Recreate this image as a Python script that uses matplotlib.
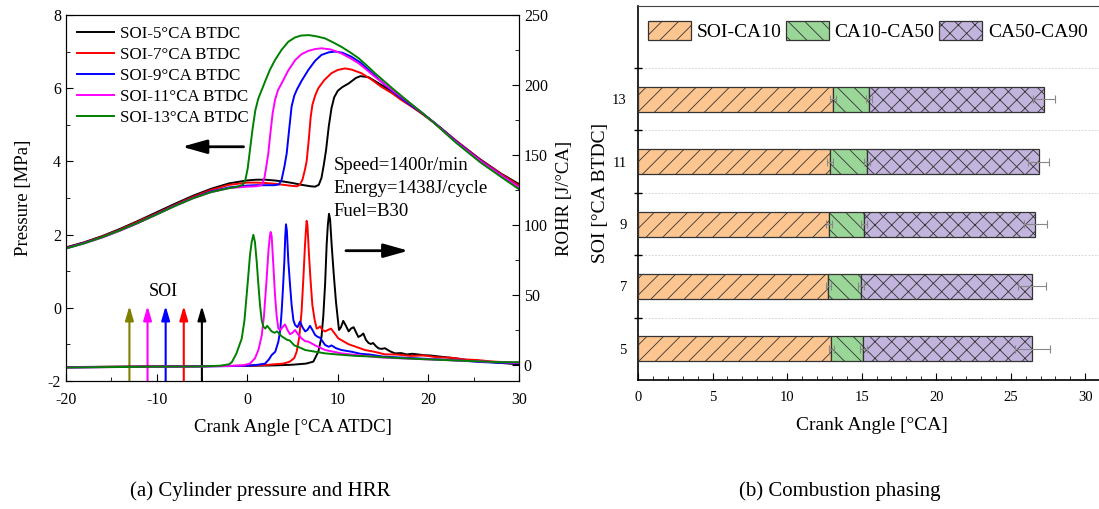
import matplotlib
matplotlib.use('Agg')
from matplotlib import pyplot as plt
from matplotlib.patches import Patch
from matplotlib.ticker import MultipleLocator, FixedLocator

plt.rcParams['font.family'] = ['Liberation Serif', 'DejaVu Serif']
plt.rcParams['hatch.linewidth'] = 0.6
plt.rcParams['axes.unicode_minus'] = False

# ---- (a) cylinder pressure / ROHR ----
labels = ['SOI-5°CA BTDC', 'SOI-7°CA BTDC', 'SOI-9°CA BTDC', 'SOI-11°CA BTDC', 'SOI-13°CA BTDC']
colors = ['black', 'red', 'blue', 'magenta', 'green']

p5_x = [-20, -18, -16, -14, -12, -10, -8, -6, -4, -2, 0, 1, 2, 3, 4, 5, 6, 7, 7.5, 7.9, 8.2, 8.45, 8.7, 9.0,
        9.3, 9.6, 10.0, 10.5, 11.2, 12.0, 12.5, 13.4, 14.8, 16, 17, 18, 19.3, 20.5, 21.3, 23, 25.7, 28, 30]
p5_y = [1.65, 1.79, 1.96, 2.16, 2.38, 2.61, 2.84, 3.06, 3.25, 3.40, 3.48, 3.50, 3.50, 3.48, 3.45, 3.41, 3.36,
        3.32, 3.31, 3.36, 3.55, 3.9, 4.3, 4.95, 5.45, 5.75, 5.93, 6.03, 6.13, 6.28, 6.33, 6.3, 6.09, 5.9, 5.72,
        5.55, 5.31, 5.08, 4.93, 4.57, 4.06, 3.67, 3.38]
p7_x = [-20, -18, -16, -14, -12, -10, -8, -6, -4, -2, 0, 1, 2, 3, 4, 5, 5.5, 5.8, 6.1, 6.35, 6.56, 6.8, 7.0,
        7.2, 7.5, 7.85, 8.5, 9.3, 10.0, 10.8, 11.5, 12.6, 13.7, 14.8, 16, 17, 18, 19.3, 20.5, 21.3, 23, 25.7, 28, 30]
p7_y = [1.64, 1.78, 1.95, 2.14, 2.36, 2.58, 2.81, 3.03, 3.22, 3.36, 3.42, 3.42, 3.41, 3.39, 3.36, 3.33, 3.32,
        3.36, 3.5, 3.75, 4.0, 4.6, 5.2, 5.55, 5.8, 6.0, 6.22, 6.41, 6.5, 6.54, 6.51, 6.41, 6.24, 6.04, 5.86,
        5.68, 5.52, 5.3, 5.08, 4.92, 4.58, 4.05, 3.66, 3.34]
p9_x = [-20, -18, -16, -14, -12, -10, -8, -6, -4, -2, 0, 1, 2, 3, 3.5, 3.8, 4.1, 4.36, 4.6, 4.9, 5.2, 5.5, 6.0,
        6.75, 7.5, 8.2, 9.0, 9.7, 10.5, 11.5, 12.5, 13.4, 15.2, 16.5, 17.8, 19.3, 20.5, 21.3, 23, 25.7, 28, 30]
p9_y = [1.63, 1.77, 1.93, 2.12, 2.33, 2.56, 2.79, 3.0, 3.18, 3.29, 3.34, 3.35, 3.35, 3.35, 3.37, 3.5, 3.85,
        4.22, 4.8, 5.5, 5.8, 5.97, 6.2, 6.5, 6.75, 6.91, 6.98, 7.0, 6.97, 6.86, 6.7, 6.5, 6.09, 5.82, 5.58,
        5.32, 5.09, 4.92, 4.56, 4.03, 3.63, 3.29]
p11_x = [-20, -18, -16, -14, -12, -10, -8, -6, -4, -2, 0, 1, 1.6, 1.9, 2.1, 2.33, 2.55, 2.8, 3.07, 3.4, 3.8,
         4.5, 5.3, 6.0, 6.75, 7.5, 8.2, 9.2, 10.4, 11.3, 12.3, 13.2, 14.1, 16, 17.8, 19.3, 20.5, 21.3, 23,
         25.7, 28, 30]
p11_y = [1.62, 1.76, 1.92, 2.11, 2.32, 2.55, 2.78, 2.99, 3.16, 3.27, 3.31, 3.32, 3.35, 3.55, 3.85, 4.22, 4.75,
         5.3, 5.68, 5.95, 6.13, 6.47, 6.77, 6.93, 7.02, 7.07, 7.09, 7.06, 6.95, 6.83, 6.68, 6.5, 6.31, 5.95,
         5.62, 5.33, 5.08, 4.91, 4.54, 4.02, 3.62, 3.29]
p13_x = [-20, -18, -16, -14, -12, -10, -8, -6, -4, -2, -1, -0.5, -0.2, 0.05, 0.3, 0.6, 0.9, 1.23, 1.6, 2.0, 2.5,
         3.07, 3.8, 4.54, 5.3, 6.0, 6.8, 7.6, 8.6, 9.5, 10.4, 11.3, 12.3, 13.2, 14.1, 16, 17.8, 19.3, 20.5,
         21.3, 23, 25.7, 28, 30]
p13_y = [1.62, 1.76, 1.93, 2.12, 2.33, 2.55, 2.78, 2.99, 3.16, 3.27, 3.31, 3.36, 3.5, 3.8, 4.3, 4.9, 5.4, 5.72,
         5.95, 6.2, 6.5, 6.77, 7.05, 7.27, 7.39, 7.44, 7.45, 7.42, 7.36, 7.25, 7.13, 6.99, 6.82, 6.62, 6.41,
         6.0, 5.63, 5.33, 5.08, 4.9, 4.52, 3.98, 3.58, 3.24]

h5_x = [-20, -15, -10, -5, 0, 3, 5, 6.5, 7.3, 7.85, 8.2, 8.4, 8.6, 8.77, 8.9, 9.03, 9.15, 9.32, 9.55, 9.8,
        10.13, 10.35, 10.6, 10.9, 11.2, 11.45, 11.75, 12.0, 12.27, 12.55, 12.82, 13.1, 13.4, 13.65, 13.9, 14.2,
        14.5, 14.85, 15.2, 15.7, 16.3, 17.0, 17.6, 18.2, 18.8, 19.5, 20.2, 21.0, 22.0, 23.3, 24.3, 25.5, 27,
        28.5, 30]
h5_y = [-1.5, -1.2, -1.0, -0.8, -0.6, -0.3, 0.2, 1.0, 2.4, 9.5, 20, 35, 58, 86, 100, 108, 104, 86, 65, 45, 25,
        27, 31.5, 28, 24, 26, 27, 23.5, 20, 21, 22.5, 18, 15.7, 15, 15.7, 13.5, 11.9, 11.5, 12, 10, 8.3, 8.5,
        7.5, 8.0, 7.6, 7.0, 6.8, 6.2, 5.5, 4.5, 3.5, 3.0, 2.0, 1.2, 0.5]
h7_x = [-20, -15, -10, -5, 0, 2, 4, 4.7, 5.2, 5.46, 5.75, 6.0, 6.2, 6.38, 6.5, 6.56, 6.65, 6.82, 7.0, 7.19,
        7.45, 7.67, 7.85, 8.05, 8.3, 8.6, 8.9, 9.25, 9.6, 10.06, 10.6, 11.2, 12.0, 13.0, 14.0, 15.2, 16.5, 18,
        19.5, 21, 22.5, 24, 25.5, 27, 28.5, 30]
h7_y = [-1.6, -1.3, -1.1, -0.9, -0.5, 0, 1, 2.4, 5, 9.5, 20, 38, 62, 85.7, 98, 103, 100, 78.6, 60, 43, 32, 26,
        26.5, 27.6, 25, 24, 25, 26, 23, 19, 17, 14.8, 13, 10.7, 9.5, 7.6, 7.5, 6.5, 6.8, 5.5, 5.2, 4.0, 3.5,
        2.5, 2.0, 1.5]
h9_x = [-20, -15, -10, -5, -2, 0, 1, 1.97, 2.4, 2.7, 3.1, 3.44, 3.65, 3.8, 3.95, 4.1, 4.2, 4.28, 4.38, 4.54,
        4.72, 4.9, 5.1, 5.28, 5.55, 5.83, 6.1, 6.4, 6.65, 6.93, 7.2, 7.5, 7.8, 8.05, 8.3, 8.6, 9.0, 9.3, 9.8,
        10.4, 11.5, 12.5, 13.5, 15, 16.5, 18, 19.5, 21, 22.5, 24, 25.5, 27, 28.5, 30]
h9_y = [-1.8, -1.4, -1.2, -1.0, -0.8, -0.5, 0, 1, 4, 7.1, 9.5, 16.7, 25, 38, 55, 74, 92, 100.5, 96, 74, 58,
        43, 32, 28.6, 27, 31, 27, 24, 25, 28, 25, 21.4, 20, 19.5, 17, 14.3, 13, 14, 12, 10.7, 9.5, 8, 7.5, 6,
        5.5, 5.0, 4.5, 4.0, 3.5, 3.0, 2.2, 1.8, 1.5, 1.2]
h11_x = [-20, -15, -10, -5, -2, -0.5, 0.3, 0.86, 1.25, 1.6, 1.85, 2.15, 2.35, 2.5, 2.59, 2.7, 2.88, 3.07,
         3.25, 3.44, 3.65, 3.9, 4.17, 4.45, 4.72, 5.0, 5.28, 5.6, 6.0, 6.4, 6.75, 7.5, 8.6, 9.5, 10.4, 11.5,
         13, 14.5, 16, 18, 20, 22, 24, 26, 28, 30]
h11_y = [-1.8, -1.5, -1.2, -1.0, -0.7, -0.3, 1, 4.8, 11, 21, 35, 62, 82, 92, 95, 92, 72, 50, 35, 26, 25, 27,
         29, 25, 22, 23, 25, 22, 19, 17, 16.7, 14, 10.7, 9.5, 8.3, 7.5, 6.5, 5.5, 5, 4.5, 4, 3.5, 3.0, 2.5,
         2.0, 1.5]
h13_x = [-20, -15, -10, -5, -3, -2, -1.7, -1.2, -0.6, -0.3, -0.06, 0.15, 0.31, 0.5, 0.68, 0.85, 1.05, 1.25,
         1.41, 1.6, 1.78, 2.0, 2.2, 2.45, 2.7, 3.0, 3.3, 3.8, 4.4, 4.7, 5.2, 5.8, 6.4, 7.5, 8.6, 10, 12, 14, 16,
         18, 20, 22, 24, 26, 28, 30]
h13_y = [-1.8, -1.5, -1.2, -1.0, -0.5, 0.5, 2, 8, 19, 32, 50, 66, 78.6, 88, 93, 88, 73.8, 56, 43, 32, 27.4,
         26, 28, 26, 24, 23, 24, 20.5, 18, 17.5, 14, 12.5, 10.7, 9.5, 8.3, 7.5, 6.5, 6, 5.2, 4.6, 4, 3.5, 3,
         2.5, 2, 2]

pressure = [(p5_x, p5_y), (p7_x, p7_y), (p9_x, p9_y), (p11_x, p11_y), (p13_x, p13_y)]
rohr = [(h5_x, h5_y), (h7_x, h7_y), (h9_x, h9_y), (h11_x, h11_y), (h13_x, h13_y)]

soi_marks = [-13, -11, -9, -7, -5]
soi_colors = ['#808000', 'magenta', 'blue', 'red', 'black']

# ---- (b) combustion phasing ----
soi = ['5', '7', '9', '11', '13']
ca10 = [12.97, 12.77, 12.81, 12.88, 13.08]
ca50 = [15.11, 14.98, 15.16, 15.36, 15.49]
ca90 = [26.45, 26.43, 26.65, 26.89, 27.23]
err10 = [0.18, 0.18, 0.18, 0.18, 0.18]
err50 = [0.22, 0.2, 0.2, 0.22, 0.22]
err90 = [1.15, 0.92, 0.78, 0.7, 0.73]
phase_names = ['SOI-CA10', 'CA10-CA50', 'CA50-CA90']
phase_colors = ['#fdc690', '#9ad697', '#c2b4dc']
phase_hatch = ['//', '\\\\', 'xx']


def draw_pressure(fig):
    ax = fig.add_axes([66 / 1099, 128 / 509, 453 / 1099, 366 / 509])
    ax2 = ax.twinx()
    for (x, y), c, lab in zip(pressure, colors, labels):
        ax.plot(x, y, color=c, lw=1.4, label=lab)
    for (x, y), c in zip(rohr, colors):
        ax2.plot(x, y, color=c, lw=1.4)

    ax.set_xlim(-20, 30)
    ax.set_ylim(-2, 8)
    ax2.set_ylim(-11.43, 250)
    ax.xaxis.set_major_locator(MultipleLocator(10))
    ax.xaxis.set_minor_locator(MultipleLocator(5))
    ax.yaxis.set_major_locator(MultipleLocator(2))
    ax.yaxis.set_minor_locator(MultipleLocator(1))
    ax2.yaxis.set_major_locator(FixedLocator([0, 50, 100, 150, 200, 250]))
    ax2.yaxis.set_minor_locator(FixedLocator([25, 75, 125, 175, 225]))
    ax.tick_params(which='both', direction='in', labelsize=11.5, top=False)
    ax.tick_params(which='major', length=5)
    ax.tick_params(which='minor', length=3)
    ax.tick_params(axis='x', pad=8)
    ax2.tick_params(which='both', direction='in', labelsize=11.5)
    ax2.tick_params(which='major', length=5)
    ax2.tick_params(which='minor', length=3)

    ax.set_xlabel('Crank Angle [°CA ATDC]', fontsize=13.5, labelpad=8)
    ax.set_ylabel('Pressure [MPa]', fontsize=13.5, labelpad=11)
    ax2.set_ylabel('ROHR [J/°CA]', fontsize=13.5, labelpad=6)

    ax.legend(loc='upper left', frameon=False, fontsize=12.2, handlelength=2.2,
              handletextpad=0.35, labelspacing=0.3, borderaxespad=0.35, borderpad=0.3)

    # SOI arrows
    for xs, c in zip(soi_marks, soi_colors):
        ax.annotate('', xy=(xs, 0.05), xytext=(xs, -2),
                    arrowprops=dict(arrowstyle='-|>,head_length=0.85,head_width=0.25',
                                    color=c, lw=1.5, mutation_scale=10, shrinkA=0, shrinkB=0))
    ax.text(-9.3, 0.45, 'SOI', fontsize=13, ha='center', va='center')

    ax.annotate('', xy=(-7.2, 4.4), xytext=(-0.4, 4.4),
                arrowprops=dict(arrowstyle='-|>,head_length=1.0,head_width=0.28',
                                color='black', lw=2, mutation_scale=15, shrinkA=0, shrinkB=0))
    ax.annotate('', xy=(17.8, 1.56), xytext=(10.9, 1.56),
                arrowprops=dict(arrowstyle='-|>,head_length=1.0,head_width=0.28',
                                color='black', lw=2, mutation_scale=15, shrinkA=0, shrinkB=0))

    ax.text(9.5, 3.9, 'Speed=1400r/min', fontsize=13.5, va='center')
    ax.text(9.5, 3.25, 'Energy=1438J/cycle', fontsize=13.5, va='center')
    ax.text(9.5, 2.63, 'Fuel=B30', fontsize=13.5, va='center')


def draw_phasing(fig):
    ax = fig.add_axes([638 / 1099, 129 / 509, 467 / 1099, 374.3 / 509])
    pos = list(range(len(soi)))
    d1 = ca10
    d2 = [b - a for a, b in zip(ca10, ca50)]
    d3 = [b - a for a, b in zip(ca50, ca90)]
    starts = [[0] * len(soi), ca10, ca50]
    for d, s, c, h, n in zip([d1, d2, d3], starts, phase_colors, phase_hatch, phase_names):
        ax.barh(pos, d, left=s, height=0.4, color=c, hatch=h, edgecolor='#333333',
                linewidth=0.9, label=n, zorder=3)
    for ends, e in zip([ca10, ca50, ca90], [err10, err50, err90]):
        ax.errorbar(ends, pos, xerr=e, fmt='none', ecolor='#888888', elinewidth=0.8,
                    capsize=3, capthick=0.8, zorder=4)

    ax.set_xlim(0, 467 / 14.91)
    ax.set_ylim(-0.5, 5.5)
    ax.set_yticks(pos)
    ax.set_yticklabels(soi)
    ax.yaxis.set_minor_locator(FixedLocator([0.5, 1.5, 2.5, 3.5, 4.5]))
    ax.xaxis.set_major_locator(MultipleLocator(5))
    ax.xaxis.set_minor_locator(MultipleLocator(1))
    ax.tick_params(axis='y', which='major', length=0, labelsize=10.5, pad=8)
    ax.tick_params(axis='y', which='minor', direction='inout', length=6, width=1)
    ax.tick_params(axis='x', which='major', direction='in', length=5, labelsize=10.5, pad=8)
    ax.tick_params(axis='x', which='minor', direction='in', length=3)
    ax.grid(axis='y', which='minor', ls=(0, (2, 2)), color='#cccccc', lw=0.6)
    ax.spines['right'].set_visible(False)
    ax.spines['top'].set_color('#444444')
    for sp in ['left', 'bottom']:
        ax.spines[sp].set_linewidth(1.2)

    ax.set_xlabel('Crank Angle [°CA]', fontsize=14, labelpad=9)
    ax.set_ylabel('SOI [°CA BTDC]', fontsize=14, labelpad=2)

    handles = [Patch(facecolor=c, hatch=h, edgecolor='#333333', linewidth=0.9)
               for c, h in zip(phase_colors, phase_hatch)]
    ax.legend(handles, phase_names, loc='upper left', bbox_to_anchor=(0.0, 0.985), ncol=3,
              frameon=False, fontsize=14, handlelength=2.2, handleheight=1.15, handletextpad=0.3,
              columnspacing=0.25, borderaxespad=0.2, borderpad=0.3)


def main():
    fig = plt.figure(figsize=(10.99, 5.09), dpi=100)
    draw_pressure(fig)
    draw_phasing(fig)
    fig.text(0.237, 0.035, '(a) Cylinder pressure and HRR', fontsize=15, ha='center', va='center')
    fig.text(0.764, 0.035, '(b) Combustion phasing', fontsize=15, ha='center', va='center')
    fig.savefig('out.png', dpi=100)


if __name__ == '__main__':
    main()
